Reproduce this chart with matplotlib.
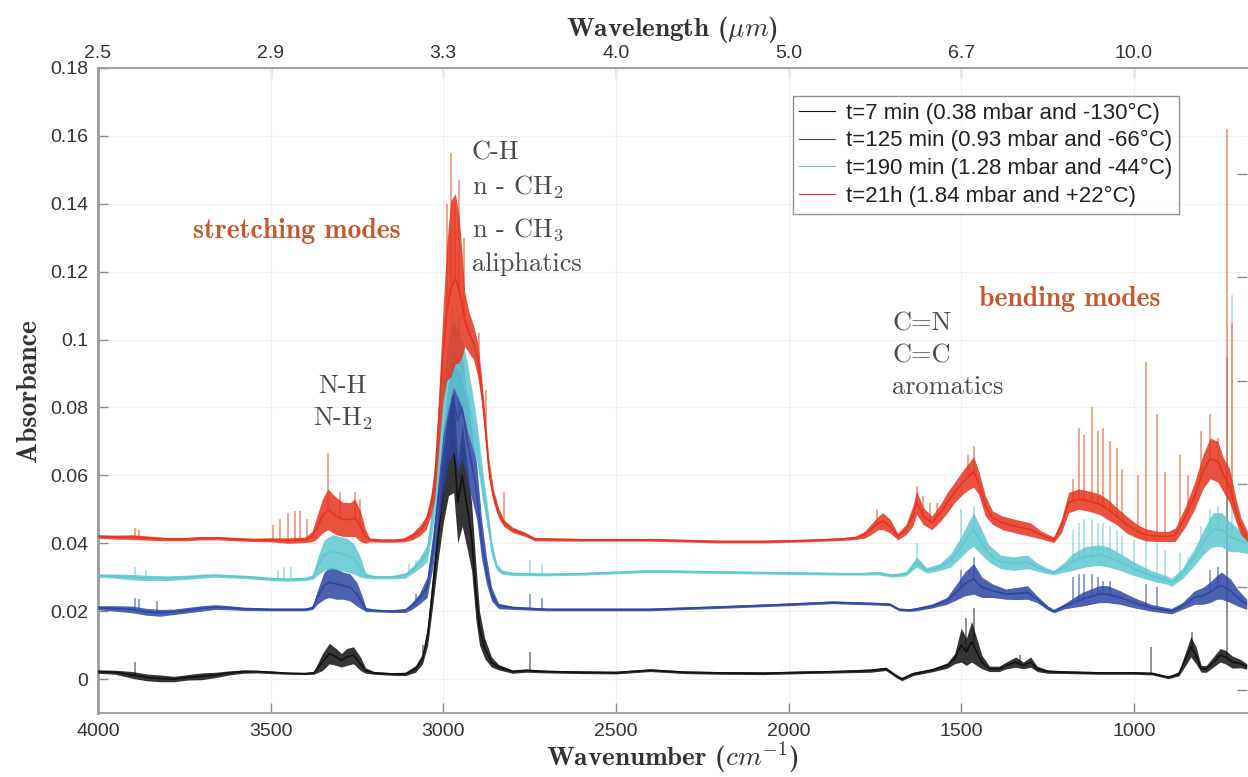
import matplotlib.pyplot as plt
import numpy as np
from matplotlib.ticker import StrMethodFormatter

plt.rcParams['mathtext.fontset'] = 'cm'
plt.rcParams['font.family'] = ['Liberation Sans', 'DejaVu Sans']

# t=7 min : wavenumber, absorbance (middle of the noisy trace), noise half width
black_wn = [4000, 3950, 3900, 3860, 3820, 3780, 3740, 3700, 3660, 3620, 3580, 3540, 3500, 3450, 3400,
            3375, 3350, 3330, 3310, 3295, 3280, 3260, 3240, 3225, 3200, 3150, 3110, 3080, 3060, 3045,
            3030, 3015, 3000, 2985, 2970, 2958, 2945, 2930, 2918, 2905, 2895, 2880, 2860, 2840, 2800,
            2760, 2700, 2600, 2500, 2400, 2300, 2200, 2072, 1950, 1850, 1762, 1718, 1690, 1672, 1640,
            1585, 1540, 1519, 1500, 1485, 1470, 1455, 1440, 1418, 1390, 1370, 1342, 1320, 1299, 1280,
            1250, 1189, 1100, 1000, 946, 900, 870, 850, 835, 820, 805, 790, 770, 750, 735, 715, 690, 673]
black_abs = [.0022, .0020, .0012, .0005, .0002, .0000, .0005, .0008, .0012, .0018, .0022, .0022, .0020, .0017, .0016,
             .0018, .0050, .0075, .0065, .0055, .0065, .0070, .0045, .0025, .0018, .0015, .0015, .0030, .0060, .0130,
             .0270, .0420, .0560, .0660, .0700, .0520, .0600, .0500, .0420, .0250, .0150, .0090, .0050, .0035, .0022,
             .0025, .0022, .0020, .0019, .0026, .0020, .0018, .0017, .0020, .0022, .0025, .0030, .0010, .0000, .0015,
             .0026, .0040, .0060, .0100, .0080, .0110, .0080, .0050, .0030, .0030, .0040, .0050, .0040, .0050, .0030,
             .0022, .0020, .0018, .0018, .0016, .0005, .0015, .0060, .0095, .0070, .0030, .0030, .0050, .0070, .0065,
             .0050, .0045, .0037]
black_noise = [.0005, .0006, .0010, .0010, .0010, .0008, .0008, .0010, .0008, .0006, .0005, .0004, .0004, .0003, .0003,
               .0004, .0025, .0030, .0025, .0020, .0025, .0025, .0020, .0008, .0004, .0004, .0005, .0010, .0015, .0030,
               .0050, .0070, .0100, .0120, .0150, .0120, .0150, .0120, .0100, .0080, .0050, .0030, .0015, .0008, .0005,
               .0005, .0004, .0004, .0004, .0004, .0004, .0004, .0004, .0004, .0004, .0005, .0005, .0005, .0005, .0005,
               .0005, .0008, .0015, .0050, .0040, .0060, .0040, .0020, .0008, .0008, .0010, .0015, .0010, .0015, .0008,
               .0005, .0004, .0004, .0004, .0004, .0004, .0006, .0020, .0030, .0025, .0010, .0010, .0015, .0020, .0020,
               .0018, .0012, .0008]
black_spike_wn = [3893, 3060, 2975, 2750, 1485, 1464, 1330, 949, 833, 731]
black_spike_top = [.005, .010, .088, .008, .018, .021, .007, .0094, .014, .095]

# t=125 min
blue_wn = [4000, 3950, 3900, 3860, 3820, 3780, 3740, 3700, 3660, 3620, 3580, 3500, 3450, 3400, 3378,
           3365, 3345, 3330, 3310, 3290, 3270, 3250, 3235, 3224, 3200, 3150, 3110, 3091, 3070, 3047,
           3030, 3015, 3001, 2985, 2970, 2958, 2945, 2930, 2915, 2903, 2890, 2875, 2860, 2840, 2800,
           2700, 2600, 2402, 2200, 2000, 1872, 1750, 1707, 1680, 1650, 1629, 1585, 1542, 1510, 1490,
           1464, 1440, 1409, 1370, 1340, 1308, 1280, 1250, 1232, 1200, 1150, 1100, 1076, 1040, 1000,
           950, 891, 860, 824, 800, 780, 760, 746, 720, 700, 673]
blue_abs = [.0210, .0208, .0205, .0198, .0195, .0198, .0203, .0208, .0212, .0210, .0207, .0205, .0205, .0205, .0210,
            .0240, .0275, .0285, .0280, .0275, .0270, .0250, .0225, .0205, .0202, .0200, .0202, .0215, .0235, .0270,
            .0380, .0520, .0640, .0760, .0820, .0760, .0800, .0700, .0620, .0550, .0420, .0320, .0250, .0215, .0210,
            .0205, .0205, .0205, .0212, .0220, .0226, .0222, .0220, .0205, .0203, .0206, .0215, .0230, .0260, .0280,
            .0295, .0270, .0260, .0250, .0252, .0255, .0235, .0210, .0200, .0215, .0235, .0250, .0250, .0240, .0225,
            .0210, .0200, .0215, .0240, .0245, .0255, .0270, .0275, .0260, .0240, .0220]
blue_noise = [.0006, .0008, .0010, .0010, .0010, .0008, .0008, .0008, .0007, .0006, .0005, .0004, .0004, .0004, .0005,
              .0020, .0040, .0045, .0045, .0040, .0040, .0035, .0020, .0006, .0004, .0004, .0006, .0010, .0015, .0030,
              .0050, .0070, .0090, .0120, .0150, .0150, .0150, .0120, .0100, .0080, .0060, .0040, .0020, .0008, .0005,
              .0004, .0004, .0004, .0004, .0004, .0004, .0004, .0004, .0004, .0004, .0005, .0006, .0010, .0025, .0035,
              .0045, .0030, .0020, .0015, .0018, .0020, .0010, .0006, .0005, .0008, .0020, .0025, .0025, .0020, .0015,
              .0010, .0008, .0010, .0020, .0025, .0030, .0035, .0040, .0035, .0025, .0015]
blue_spike_wn = [3893, 3880, 3830, 3080, 3062, 2975, 2955, 2750, 2715, 1500, 1464, 1177, 1160, 1143, 1122,
                 1105, 1088, 1068, 966, 934, 779, 757]
blue_spike_top = [.024, .0235, .023, .025, .026, .097, .090, .025, .024, .032, .036, .030, .031, .031, .031,
                  .030, .029, .029, .028, .027, .032, .033]

# t=190 min
cyan_wn = [4000, 3950, 3900, 3860, 3800, 3740, 3700, 3660, 3620, 3560, 3500, 3450, 3400, 3378, 3365,
           3345, 3320, 3300, 3280, 3260, 3240, 3225, 3200, 3150, 3110, 3091, 3070, 3047, 3035, 3024,
           3012, 3001, 2985, 2970, 2958, 2945, 2930, 2915, 2903, 2890, 2880, 2868, 2859, 2845, 2830,
           2800, 2700, 2600, 2402, 2200, 2000, 1850, 1785, 1740, 1700, 1660, 1629, 1600, 1562, 1530,
           1500, 1480, 1464, 1445, 1420, 1386, 1350, 1308, 1280, 1250, 1232, 1200, 1177, 1140, 1100,
           1076, 1040, 1000, 950, 900, 891, 860, 824, 800, 780, 769, 746, 723, 700, 671]
cyan_abs = [.0305, .0303, .0300, .0298, .0297, .0300, .0303, .0305, .0303, .0300, .0295, .0293, .0295, .0300, .0330,
            .0365, .0375, .0370, .0365, .0355, .0330, .0305, .0300, .0300, .0305, .0320, .0340, .0370, .0450, .0550,
            .0680, .0800, .0900, .0960, .0930, .0900, .0830, .0760, .0700, .0600, .0530, .0450, .0380, .0330, .0315,
            .0310, .0308, .0310, .0318, .0315, .0312, .0310, .0310, .0312, .0305, .0310, .0345, .0320, .0330, .0350,
            .0390, .0420, .0440, .0410, .0370, .0345, .0340, .0345, .0330, .0318, .0314, .0330, .0345, .0360, .0365,
            .0360, .0345, .0325, .0305, .0290, .0285, .0310, .0360, .0400, .0430, .0440, .0440, .0420, .0410, .0400]
cyan_noise = [.0005, .0006, .0008, .0008, .0007, .0006, .0006, .0005, .0005, .0005, .0005, .0005, .0005, .0006, .0025,
              .0045, .0050, .0050, .0050, .0045, .0030, .0008, .0005, .0005, .0008, .0010, .0015, .0025, .0040, .0060,
              .0070, .0080, .0100, .0100, .0100, .0100, .0100, .0080, .0060, .0050, .0040, .0030, .0020, .0010, .0006,
              .0005, .0004, .0004, .0004, .0004, .0004, .0004, .0004, .0005, .0005, .0006, .0015, .0008, .0010, .0020,
              .0030, .0040, .0050, .0040, .0025, .0020, .0020, .0020, .0012, .0008, .0006, .0015, .0025, .0030, .0030,
              .0030, .0025, .0020, .0015, .0012, .0012, .0015, .0025, .0035, .0045, .0050, .0050, .0045, .0035, .0030]
cyan_spike_wn = [3893, 3860, 3480, 3460, 3440, 3100, 3080, 3062, 2975, 2955, 2750, 2715, 1629, 1500, 1464,
                 1177, 1160, 1143, 1122, 1105, 1088, 1068, 1050, 1033, 1000, 966, 934, 911, 867, 844,
                 806, 779, 757, 716]
cyan_spike_top = [.033, .032, .032, .033, .033, .034, .035, .036, .110, .107, .035, .034, .040, .050, .051,
                  .044, .046, .047, .047, .046, .046, .045, .044, .042, .041, .044, .040, .038, .037, .036,
                  .045, .050, .051, .113]

# t=21h
red_wn = [4000, 3950, 3900, 3850, 3800, 3750, 3700, 3650, 3600, 3550, 3500, 3450, 3400, 3380, 3369,
          3350, 3334, 3310, 3290, 3270, 3256, 3240, 3225, 3213, 3180, 3140, 3114, 3090, 3068, 3050,
          3036, 3025, 3013, 3001, 2990, 2978, 2965, 2955, 2945, 2938, 2925, 2912, 2900, 2890, 2880,
          2868, 2855, 2840, 2825, 2800, 2760, 2735, 2600, 2402, 2200, 2072, 1950, 1850, 1806, 1780,
          1762, 1740, 1727, 1705, 1684, 1660, 1640, 1629, 1610, 1585, 1560, 1540, 1519, 1495, 1475,
          1464, 1450, 1430, 1409, 1380, 1342, 1320, 1299, 1270, 1232, 1210, 1189, 1160, 1134, 1100,
          1076, 1050, 1021, 990, 966, 930, 900, 880, 850, 824, 800, 779, 757, 740, 723,
          705, 690, 671]
red_abs = [.0420, .0418, .0418, .0415, .0412, .0412, .0415, .0415, .0412, .0410, .0410, .0408, .0410, .0420, .0440,
           .0480, .0500, .0480, .0470, .0470, .0475, .0450, .0420, .0410, .0408, .0408, .0410, .0420, .0437, .0460,
           .0510, .0580, .0760, .0950, .1080, .1150, .1180, .1150, .1100, .1060, .1020, .0990, .0940, .0860, .0760,
           .0620, .0540, .0490, .0460, .0440, .0425, .0412, .0410, .0410, .0405, .0405, .0408, .0412, .0416, .0425,
           .0440, .0460, .0465, .0450, .0420, .0440, .0480, .0520, .0480, .0460, .0490, .0520, .0550, .0580, .0600,
           .0610, .0580, .0510, .0475, .0460, .0450, .0445, .0440, .0425, .0410, .0450, .0520, .0530, .0525, .0515,
           .0500, .0480, .0455, .0435, .0425, .0420, .0420, .0425, .0480, .0540, .0610, .0650, .0640, .0600, .0570,
           .0500, .0450, .0420]
red_noise = [.0005, .0006, .0007, .0006, .0005, .0005, .0005, .0005, .0005, .0005, .0006, .0008, .0008, .0015, .0030,
             .0050, .0060, .0055, .0050, .0050, .0055, .0045, .0020, .0006, .0005, .0005, .0006, .0010, .0015, .0020,
             .0030, .0050, .0080, .0130, .0200, .0260, .0250, .0220, .0150, .0080, .0060, .0050, .0050, .0040, .0030,
             .0030, .0020, .0015, .0010, .0008, .0006, .0005, .0004, .0004, .0004, .0004, .0004, .0004, .0005, .0010,
             .0015, .0020, .0025, .0020, .0010, .0015, .0030, .0035, .0025, .0020, .0025, .0030, .0030, .0035, .0040,
             .0045, .0035, .0030, .0020, .0020, .0020, .0020, .0020, .0012, .0008, .0020, .0030, .0030, .0030, .0030,
             .0030, .0025, .0025, .0020, .0018, .0015, .0015, .0020, .0030, .0040, .0050, .0060, .0060, .0050, .0050,
             .0035, .0025, .0015]
red_spike_wn = [3893, 3880, 3493, 3473, 3450, 3430, 3415, 3395, 3334, 3300, 3256, 3240, 2990, 2978, 2965,
                2955, 2940, 2897, 2875, 2825, 1745, 1629, 1610, 1590, 1570, 1480, 1464, 1177, 1160, 1143,
                1122, 1105, 1088, 1068, 1050, 1033, 989, 966, 934, 911, 867, 844, 806, 779, 757,
                731, 716]
red_spike_top = [.0445, .044, .0455, .047, .049, .0495, .0495, .047, .0666, .055, .055, .053, .140, .155, .140,
                 .147, .130, .102, .085, .055, .050, .057, .054, .052, .052, .066, .0686, .059, .074, .072,
                 .080, .073, .074, .070, .068, .062, .060, .0935, .078, .061, .066, .060, .073, .078, .071,
                 .162, .105]

labels = ['t=7 min (0.38 mbar and -130\u00b0C)',
          't=125 min (0.93 mbar and -66\u00b0C)',
          't=190 min (1.28 mbar and -44\u00b0C)',
          't=21h (1.84 mbar and +22\u00b0C)']
colors = ['#111111', '#2d47a2', '#5ec7d0', '#e6341f']
spike_colors = ['#6a6a6a', '#6d7fc6', '#95dbe2', '#f2835f']

series = [(black_wn, black_abs, black_noise, black_spike_wn, black_spike_top),
          (blue_wn, blue_abs, blue_noise, blue_spike_wn, blue_spike_top),
          (cyan_wn, cyan_abs, cyan_noise, cyan_spike_wn, cyan_spike_top),
          (red_wn, red_abs, red_noise, red_spike_wn, red_spike_top)]

fig = plt.figure(figsize=(12.48, 7.77), dpi=100)
ax = fig.add_axes([0.0785, 0.0824, 0.9205, 0.8301])

# red at the back, black in front
for i in [3, 2, 1, 0]:
    wn, a, nz, swn, stop = [np.array(v, dtype=float) for v in series[i]]
    base = np.interp(swn, wn[::-1], a[::-1])
    ax.vlines(swn, base, stop, color=spike_colors[i], lw=1.3, alpha=0.8, zorder=2 + i * 0.1)
    ax.fill_between(wn, a - nz, a + nz, color=colors[i], lw=0, alpha=0.85, zorder=3 + i * 0.1)
    ax.plot(wn, a, color=colors[i], lw=1.2, zorder=3 + i * 0.1)

# legend entries as thin lines
handles = [plt.Line2D([], [], color=c, lw=0.8) for c in colors]
leg = ax.legend(handles, labels, loc='upper right', bbox_to_anchor=(0.941, 0.957), fontsize=16,
                frameon=True, fancybox=False, handlelength=1.6, handletextpad=0.5,
                borderpad=0.3, labelspacing=0.3, borderaxespad=0)
leg.get_frame().set_edgecolor('#777777')
leg.get_frame().set_linewidth(1.0)
for t in leg.get_texts():
    t.set_color('#222222')

ax.set_xlim(4000, 673)
ax.set_ylim(-0.01, 0.18)
xt = [4000, 3500, 3000, 2500, 2000, 1500, 1000]
ax.set_xticks(xt)
ax.set_yticks(np.arange(0, 0.181, 0.02))
ax.yaxis.set_major_formatter(StrMethodFormatter('{x:g}'))
ax.grid(True, color='#efefef', lw=0.8)
ax.set_axisbelow(True)
ax.tick_params(direction='in', length=7, width=1, colors='#888888', labelcolor='#333333',
               labelsize=14, pad=7)

for s in ['left', 'bottom', 'top']:
    ax.spines[s].set_color('#9a9a9a')
    ax.spines[s].set_linewidth(1.3)
ax.spines['left'].set_linewidth(2)
ax.spines['right'].set_visible(False)

# wavelength on top
top = ax.secondary_xaxis('top')
top.set_xticks(xt)
top.set_xticklabels(['%.1f' % (1e4 / w) for w in xt])
top.tick_params(direction='in', length=7, width=1, colors='#888888', labelcolor='#333333',
                labelsize=14, pad=4)
top.spines['top'].set_color('#9a9a9a')
top.set_xlabel(r'Wavelength ($\mu m$)', fontfamily='cmb10', fontsize=19.5, color='#333333', labelpad=7)

# right-hand ticks of the cropped second axis
rt = ax.twinx()
rt.set_ylim(ax.get_ylim())
rt.set_yticks([-0.0032, 0.027, 0.0575, 0.0877, 0.1185, 0.1487])
rt.tick_params(direction='in', length=7, width=1, colors='#888888', labelright=False)
for s in ['right', 'top', 'left', 'bottom']:
    rt.spines[s].set_visible(False)

ax.set_xlabel(r'Wavenumber ($cm^{-1}$)', fontfamily='cmb10', fontsize=19.5, color='#333333', labelpad=0)
ax.set_ylabel('Absorbance', fontfamily='cmb10', fontsize=20, color='#333333', labelpad=6)

note = dict(fontfamily='cmr10', fontsize=19, color='#4a4a4a', va='center')
ax.text(2917, 0.155, 'C-H', ha='left', **note)
ax.text(2917, 0.1449, r'n - CH$_2$', ha='left', **note)
ax.text(2917, 0.1325, r'n - CH$_3$', ha='left', **note)
ax.text(2917, 0.1223, 'aliphatics', ha='left', **note)
ax.text(3291, 0.0862, 'N-H', ha='center', **note)
ax.text(3291, 0.0768, r'N-H$_2$', ha='center', **note)
ax.text(1700, 0.1047, 'C=N', ha='left', **note)
ax.text(1700, 0.0953, 'C=C', ha='left', **note)
ax.text(1700, 0.0859, 'aromatics', ha='left', **note)

mode = dict(fontfamily='cmb10', fontsize=20, color='#c4582e', va='center', ha='center')
ax.text(3424, 0.132, 'stretching modes', **mode)
ax.text(1186, 0.112, 'bending modes', **mode)

fig.savefig('out.png', dpi=100)
